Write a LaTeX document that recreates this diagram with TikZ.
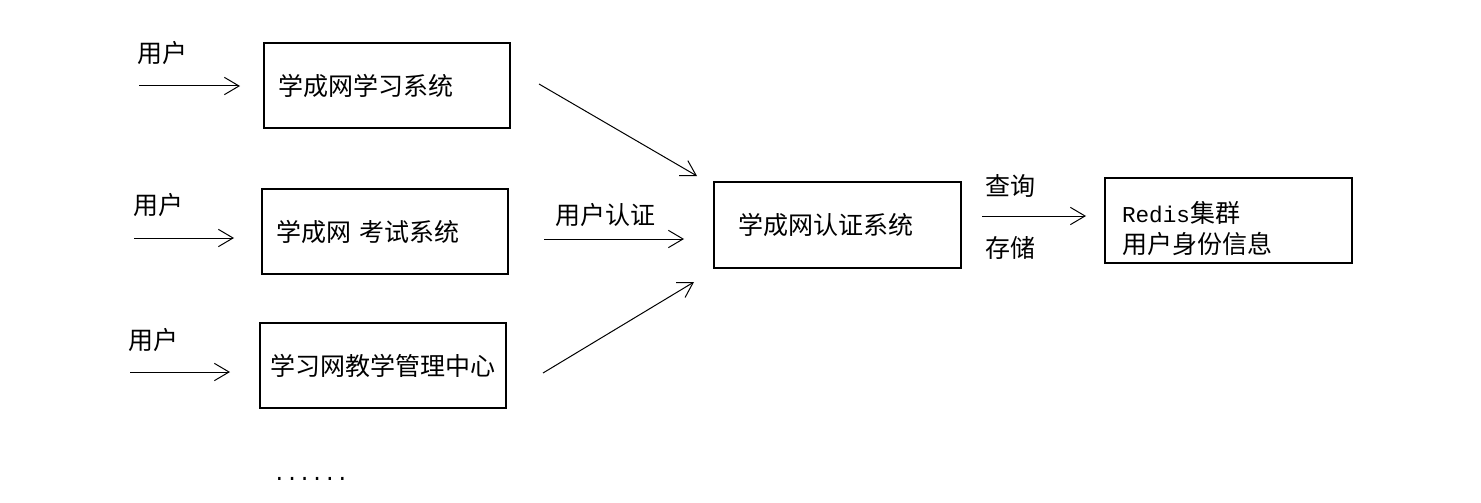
\documentclass[tikz,border=0pt]{standalone}
\usepackage{fontspec}
\setmainfont{Noto Sans CJK SC}
\newfontfamily\monofont{Liberation Mono}
\usetikzlibrary{arrows.meta,positioning}

\begin{document}
\begin{tikzpicture}[
  x=0.75pt, y=-0.75pt,
  font=\fontsize{18.75pt}{23.25pt}\selectfont,
  >={Straight Barb[length=11pt,width=13pt]},
  box/.style={
    draw,
    line width=1.5pt,
    minimum height=64pt,
    text width=163.5pt,
    inner xsep=10.5pt,
    align=left
  },
  arrow/.style={->, line width=0.75pt}
]

\useasboundingbox (0,0) rectangle (1481,503);

\node[box] (study) at (387,85.5) {学成网学习系统};

\node[box] (exam) at (385,231.5) {学成网 考试系统};

\node[box, text width=169.5pt, inner xsep=7.5pt] (teach) at (383,365.5) {学习网教学管理中心};

\node[box, text width=149.25pt, inner xsep=18pt] (auth) at (837.5,225) {学成网认证系统};

\node[box, text width=159.75pt, inner xsep=12.75pt] (redis) at (1228.5,220.5) {
  \rule{0pt}{28pt}{\monofont\fontsize{17pt}{23.25pt}\selectfont Redis}集群\\
  用户身份信息
};

\node (user1) at (162,53) {用户};
\node (user2) at (158,205) {用户};
\node (user3) at (153.5,340) {用户};

\coordinate (user1s) at (139,86);
\coordinate (user1e) at (240,86);
\coordinate (user2s) at (134,238);
\coordinate (user2e) at (234,238);
\coordinate (user3s) at (130,372);
\coordinate (user3e) at (230,372);

\draw[arrow] (user1s) -- (user1e);
\draw[arrow] (user2s) -- (user2e);
\draw[arrow] (user3s) -- (user3e);

\coordinate (study2auth) at (539,84);
\coordinate (auth1) at (697,176);
\coordinate (exam2auth) at (544,239);
\coordinate (auth2) at (684,239);
\coordinate (teach2auth) at (543,373);
\coordinate (auth3) at (694,282);

\draw[arrow] (study2auth) -- (auth1);
\draw[arrow] (exam2auth) -- (auth2);
\draw[arrow] (teach2auth) -- (auth3);

\node (authlabel) at (605,215) {用户认证};

\coordinate (auth2redis) at (982,216);
\coordinate (redis1) at (1086,216);

\draw[arrow] (auth2redis) -- (redis1);

\node (query) at (1010,186) {查询};
\node (store) at (1010,248) {存储};

\node (more) at (311,479) {\monofont\fontsize{15.75pt}{18pt}\selectfont ......};

\end{tikzpicture}
\end{document}
